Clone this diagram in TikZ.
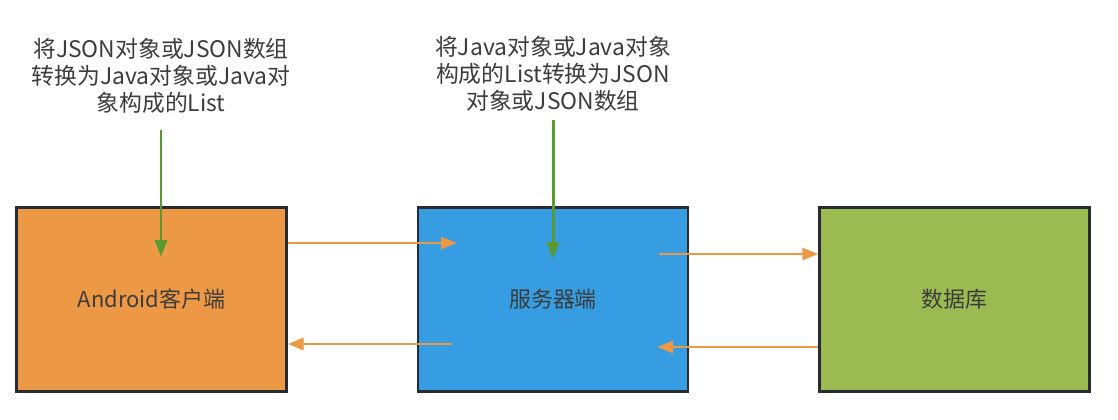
\documentclass[tikz,border=0pt]{standalone}
\usepackage{fontspec}
\setmainfont{Noto Sans CJK SC}
\usetikzlibrary{arrows.meta}
\usetikzlibrary{positioning}
\definecolor{boxorange}{HTML}{ED9845}
\definecolor{boxblue}{HTML}{369DE2}
\definecolor{boxgreen}{HTML}{9BBB52}
\definecolor{flowgreen}{HTML}{5A9A30}
\definecolor{edgegray}{HTML}{262C32}
\definecolor{textgray}{HTML}{3C3C3C}

\begin{document}
\begin{tikzpicture}[x=0.02cm,y=-0.02cm,
  block/.style={draw=edgegray,line width=1.4pt,inner sep=0pt,
    minimum width=5.4cm,minimum height=3.68cm,text=textgray,
    font=\fontsize{12.5}{15}\selectfont},
  note/.style={align=center,inner sep=0pt,text=textgray,
    font=\fontsize{13}{15.3}\selectfont},
  datalink/.style={draw=boxorange,line width=1.7pt,
    -{Triangle[length=0.32cm,width=0.24cm]}},
  convert/.style={draw=flowgreen,line width=1.7pt,
    -{Triangle[length=0.34cm,width=0.24cm]}}]
  \useasboundingbox (0,0) rectangle (1118,419);

  % the three boxes
  \node[block,fill=boxorange] (client) at (151.5,299.5) {Android客户端};
  \node[block,fill=boxblue]   (server) at (553,299.5) {服务器端};
  \node[block,fill=boxgreen]  (db)     at (954.5,299.5) {数据库};

  % notes above
  \node[note] (parse) at (161,76)
    {将JSON对象或JSON数组\\转换为Java对象或Java对\\象构成的List};
  \node[note] (build) at (553,74)
    {将Java对象或Java对象\\构成的List转换为JSON\\对象或JSON数组};

  % ends inside the boxes
  \coordinate (reqin)  at (457,243);
  \coordinate (resout) at (452,344);
  \coordinate (qout)   at (659,254);
  \coordinate (rin)    at (657,347);

  % requests and responses
  \draw[datalink] (client.east |- reqin) -- (reqin);
  \draw[datalink] (resout) -- (client.east |- resout);
  \draw[datalink] (qout) -- (db.west |- qout);
  \draw[datalink] (db.west |- rin) -- (rin);

  % conversions
  \draw[convert] (parse.south |- 0,130) -- (parse.south |- 0,257);
  \draw[convert] (build.south |- 0,120) -- (build.south |- 0,259);
\end{tikzpicture}
\end{document}
